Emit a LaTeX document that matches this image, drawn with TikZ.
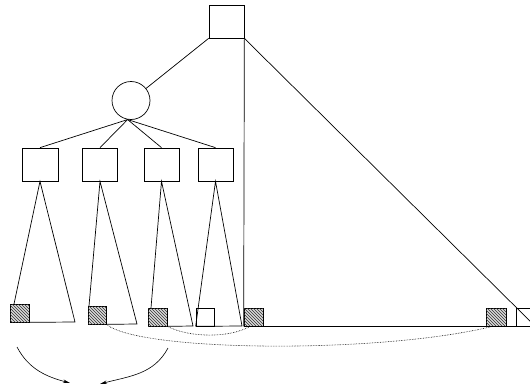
\documentclass[tikz,border=0pt]{standalone}
\usetikzlibrary{patterns,arrows.meta}
\begin{document}
\begin{tikzpicture}[x=1pt,y=-1pt,line width=0.7pt,
  box/.style={draw,rectangle,inner sep=0pt,minimum width=35pt,minimum height=33pt},
  smallbox/.style={draw,rectangle,inner sep=0pt,minimum width=19pt,minimum height=18pt},
  hatched/.style={smallbox,fill=black!15,postaction={pattern=north west lines,pattern color=black!80}},
  circ/.style={draw,circle,inner sep=0pt,minimum size=38pt},
  link/.style={draw,densely dotted,line width=0.6pt},
  move/.style={-{Stealth[length=7pt,width=3.5pt]},line width=0.6pt}]
\useasboundingbox (0,0) rectangle (530,388);
% tree nodes
\node[box] (top) at (226.5,21.5) {};
\node[circ] (c) at (131,100.5) {};
\node[box,minimum width=36pt] (s1) at (40,164.5) {};
\node[box] (s2) at (100,164.5) {};
\node[box] (s3) at (161.5,164.5) {};
\node[box] (s4) at (215.5,164.5) {};
% bottom boxes
\node[hatched] (h1) at (19.5,313) {};
\node[hatched,minimum width=18pt] (h2) at (97,315) {};
\node[hatched] (h3) at (157.5,317) {};
\node[smallbox,minimum width=18pt] (w4) at (205,317) {};
\node[hatched] (h5) at (253.5,317) {};
\node[hatched,minimum width=20pt] (h6) at (496,317) {};
\node[smallbox] (w7) at (525.5,317) {};
% triangle corners
\coordinate (t1l) at (14,304);
\coordinate (t1r) at (75,322);
\coordinate (t2l) at (89,306);
\coordinate (t2r) at (137,324);
\coordinate (t3l) at (151,308);
\coordinate (t3r) at (193,326);
\coordinate (t4r) at (242,326);
% tree edges
\draw (top.south west) -- (c);
\draw (c.260) -- (s1.north);
\draw (c.260) -- (s2.north);
\draw (c.260) -- (s3.north);
\draw (c.260) -- (s4.north);
% big triangle
\draw (top.south east) -- (h5.south west);
\draw (top.south east) -- (w7.south east);
\draw (h5.south west) -- (w7.south east);
% small triangles
\draw (t1l) -- (s1.south) -- (t1r) -- (h1.south east);
\draw (t2l) -- (s2.south) -- (t2r) -- (h2.south east);
\draw (t3l) -- (s3.south) -- (t3r) -- (h3.south east);
\draw (w4.south west) -- (s4.south) -- (t4r) -- (w4.south west);
% dotted links
\draw[link] (h2.south east) .. controls (140,352) and (380,354) .. (h6.250);
\draw[link] (h3.south east) .. controls (190,338) and (230,338) .. (h5.250);
% arrows
\coordinate (a1s) at (17,347);
\coordinate (a1e) at (70,383);
\coordinate (a2s) at (168,348);
\coordinate (a2e) at (100,384);
\draw[move] (a1s) to[out=-62,in=165] (a1e);
\draw[move] (a2s) to[out=-118,in=15] (a2e);
\end{tikzpicture}
\end{document}
